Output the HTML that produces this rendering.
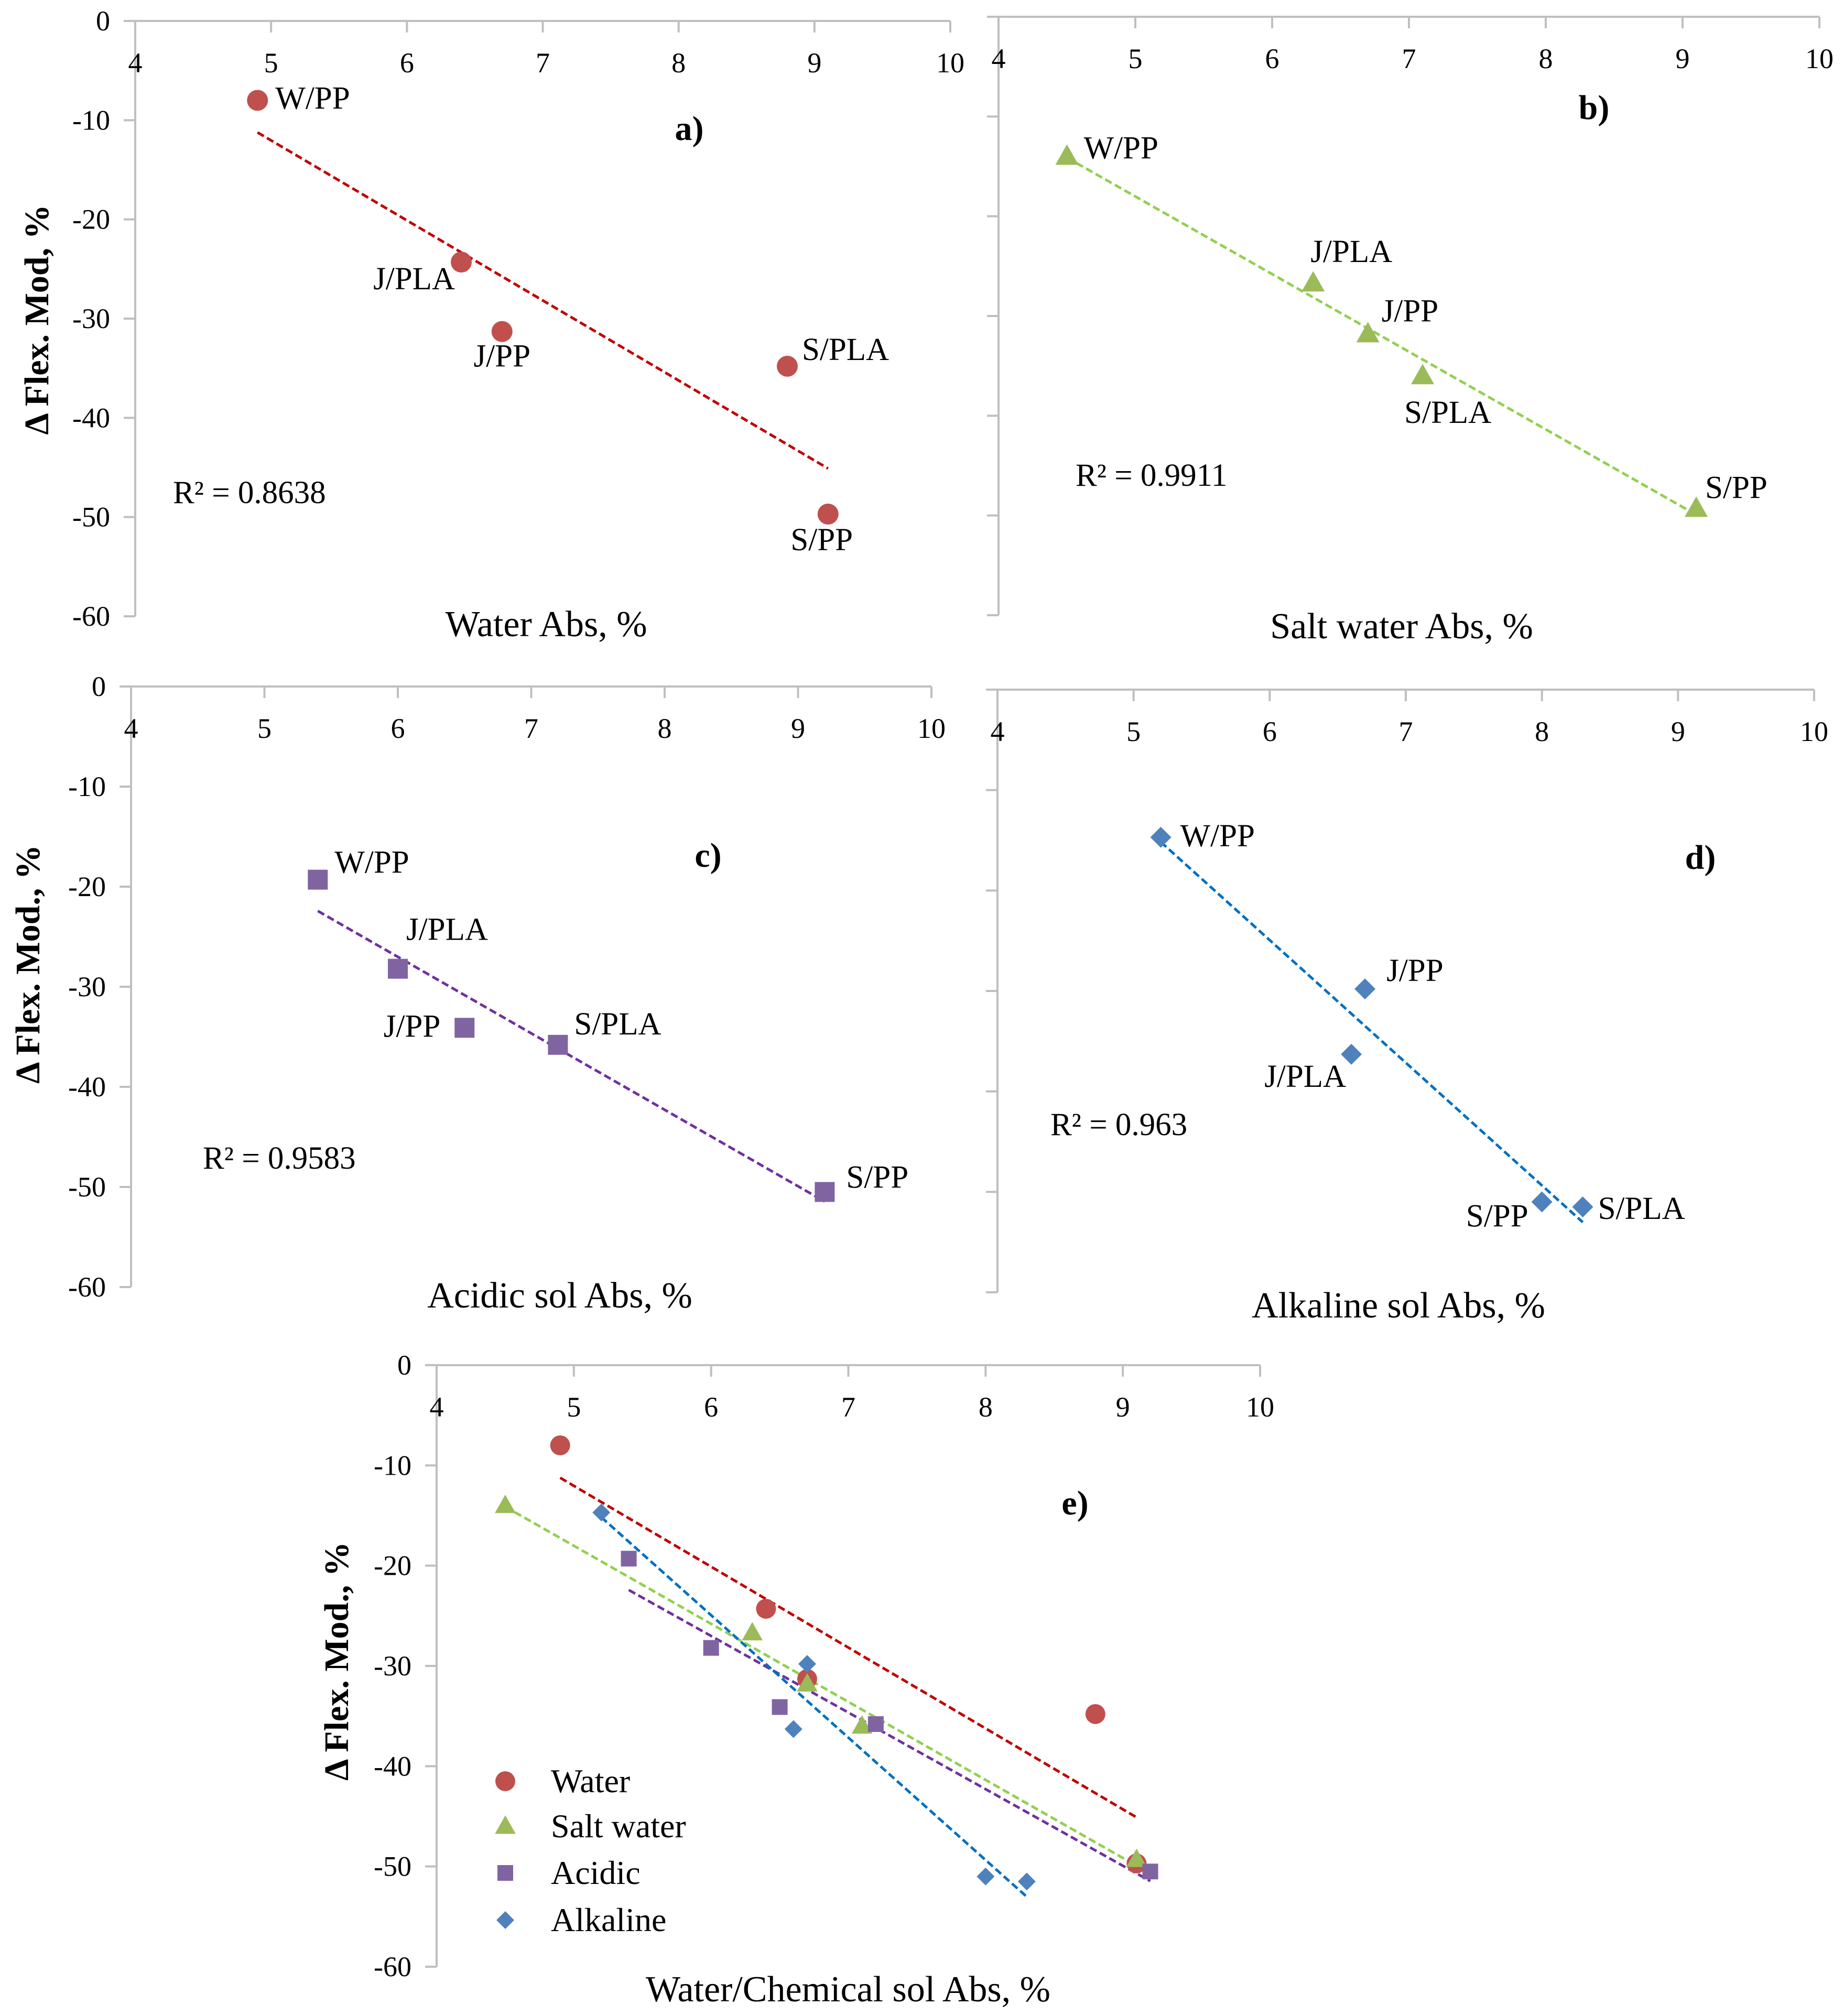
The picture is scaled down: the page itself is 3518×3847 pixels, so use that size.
<!DOCTYPE html>
<html><head><meta charset="utf-8"><style>
html,body{margin:0;padding:0;background:#fff;}
svg{display:block;font-family:"Liberation Serif",serif;}
</style></head><body>
<svg id="fig" width="3518" height="3847" viewBox="0 0 3518 3847" xmlns="http://www.w3.org/2000/svg"></svg>
<script>
const xTicks=[4,5,6,7,8,9,10];
const yTicks=[0,-10,-20,-30,-40,-50,-60];
const names=['W/PP','J/PLA','J/PP','S/PLA','S/PP'];
const waterX=[4.9,6.4,6.7,8.8,9.1];
const waterY=[-8,-24.3,-31.3,-34.8,-49.7];
const saltX=[4.5,6.3,6.7,7.1,9.1];
const saltY=[-14,-26.7,-31.8,-36,-49.3];
const acidX=[5.4,6.0,6.5,7.2,9.2];
const acidY=[-19.3,-28.2,-34.1,-35.8,-50.5];
const alkX=[5.2,6.6,6.7,8.3,8.0];
const alkY=[-14.7,-36.3,-29.8,-51.5,-51];
const r2Labels=['R² = 0.8638','R² = 0.9911','R² = 0.9583','R² = 0.963'];
const legendNames=['Water','Salt water','Acidic','Alkaline'];

const NS='http://www.w3.org/2000/svg';
const svg=document.getElementById('fig');
function mk(tag,attrs,parent){const e=document.createElementNS(NS,tag);for(const k in attrs)e.setAttribute(k,attrs[k]);(parent||svg).appendChild(e);return e;}
function txt(s,x,y,size,anchor,parent,weight){const t=mk('text',{x:x,y:y,'font-size':size,'text-anchor':anchor||'start',fill:'#000'},parent);if(weight)t.setAttribute('font-weight',weight);t.textContent=s;return t;}

const markerCol=['#c0504d','#9bbb59','#8064a2','#4f81bd'];
const lineCol=['#c00000','#92d050','#7030a0','#0070c0'];
const shapes=['circle','triangle','square','diamond'];

function marker(shape,cx,cy,s,col,g){
  let e;
  if(shape==='circle')e=mk('circle',{cx:cx,cy:cy,r:s,fill:col},g);
  else if(shape==='triangle')e=mk('polygon',{points:`${cx},${cy-s*1.15} ${cx-s*1.1},${cy+s*0.8} ${cx+s*1.1},${cy+s*0.8}`,fill:col},g);
  else if(shape==='square')e=mk('rect',{x:cx-s,y:cy-s,width:2*s,height:2*s,fill:col},g);
  else e=mk('polygon',{points:`${cx},${cy-s} ${cx+s},${cy} ${cx},${cy+s} ${cx-s},${cy}`,fill:col},g);
  return e;
}
function regress(xs,ys){const n=xs.length;const mx=xs.reduce((a,b)=>a+b)/n,my=ys.reduce((a,b)=>a+b)/n;let sxy=0,sxx=0;for(let i=0;i<n;i++){sxy+=(xs[i]-mx)*(ys[i]-my);sxx+=(xs[i]-mx)**2;}const m=sxy/sxx;return {m:m,b:my-m*mx,min:Math.min(...xs),max:Math.max(...xs)};}

function axes(P,g,showY){
  const sx=v=>P.x0+(v-4)/6*(P.x1-P.x0);
  const sy=v=>P.y0+(-v)/60*(P.y1-P.y0);
  const ax=mk('g',{},g);
  
  
  mk('line',{x1:P.x0-22,y1:P.y0,x2:P.x1,y2:P.y0,stroke:'#bfbfbf','stroke-width':4},ax);
  mk('line',{x1:P.x0,y1:P.y0,x2:P.x0,y2:P.y1,stroke:'#bfbfbf','stroke-width':4},ax);
  xTicks.forEach(v=>{mk('line',{x1:sx(v),y1:P.y0,x2:sx(v),y2:P.y0+22,stroke:'#bfbfbf','stroke-width':4},ax);
    const t=txt(String(v),sx(v),P.y0+98,54,'middle',ax);
    
    });
  yTicks.forEach(v=>{mk('line',{x1:P.x0-22,y1:sy(v),x2:P.x0,y2:sy(v),stroke:'#bfbfbf','stroke-width':4},ax);
    if(showY){const t=txt(String(v),P.x0-48,sy(v)+18,54,'end',ax);
    
    }});
  return {sx,sy};
}
function trend(xs,ys,col,sx,sy,g){
  const r=regress(xs,ys);
  const l=mk('line',{x1:sx(r.min),y1:sy(r.m*r.min+r.b),x2:sx(r.max),y2:sy(r.m*r.max+r.b),stroke:col,'stroke-width':5,'stroke-dasharray':'14 7'},g);
  
  
}

const panels=[
 {id:'a',x0:258,x1:1813,y0:40,y1:1176,xs:waterX,ys:waterY,k:0,ms:20,showY:true,
  lab:[[34,16,'start'],[-12,52,'end'],[0,67,'middle'],[28,-12,'start'],[-12,69,'middle']],
  r2:[330,960],pl:[1315,267],xt:'Water Abs, %',xtp:[1042,1214],yt:'Δ Flex. Mod, %',ytp:[70,610]},
 {id:'b',x0:1905,x1:3471,y0:32,y1:1174,xs:saltX,ys:saltY,k:1,ms:20,showY:false,
  lab:[[32,4,'start'],[-5,-40,'start'],[26,-24,'start'],[-35,90,'start'],[17,-20,'start']],
  r2:[2052,927],pl:[3041,227],xt:'Salt water Abs, %',xtp:[2674,1218]},
 {id:'c',x0:250,x1:1777,y0:1310,y1:2456,xs:acidX,ys:acidY,k:2,ms:19,showY:true,
  lab:[[32,-13,'start'],[16,-55,'start'],[-46,17,'end'],[31,-20,'start'],[41,-8,'start']],
  r2:[387,2230],pl:[1351,1654],xt:'Acidic sol Abs, %',xtp:[1068,2495],yt:'Δ Flex. Mod., %',ytp:[53,1840]},
 {id:'d',x0:1903,x1:3461,y0:1316,y1:2466,xs:alkX,ys:alkY,k:3,ms:20,showY:false,
  lab:[[37,17,'start'],[-10,62,'end'],[41,-15,'start'],[29,23,'start'],[-26,47,'end']],
  r2:[2004,2166],pl:[3244,1658],xt:'Alkaline sol Abs, %',xtp:[2668,2514]}
];
panels.forEach((P,pi)=>{
  const g=mk('g',{});
  
  
  const {sx,sy}=axes(P,g,P.showY);
  trend(P.xs,P.ys,lineCol[P.k],sx,sy,g);
  P.xs.forEach((x,i)=>{
    const m=marker(shapes[P.k],sx(x),sy(P.ys[i]),P.ms,markerCol[P.k],g);
    
    
    const L=P.lab[i];
    const t=txt(names[i],sx(x)+L[0],sy(P.ys[i])+L[1],61,L[2],g);
    
    
  });
  const r=txt(r2Labels[pi],P.r2[0],P.r2[1],61,'start',g);
  
  
  const pl=txt(P.id+')',P.pl[0],P.pl[1],66,'middle',g,'bold');
  
  
  const xt=txt(P.xt,P.xtp[0],P.xtp[1],70,'middle',g);
  
  
  if(P.yt){const yt=txt(P.yt,0,0,66,'middle',g,'bold');
    yt.setAttribute('transform',`translate(${P.ytp[0]+22},${P.ytp[1]}) rotate(-90)`);
    
    }
});

// panel e
(function(){
  const P={x0:833,x1:2404,y0:2605,y1:3753};
  const g=mk('g',{});
  
  
  const {sx,sy}=axes(P,g,true);
  const sets=[[waterX,waterY],[saltX,saltY],[acidX,acidY],[alkX,alkY]];
  const sizes=[19,18,15,17];
  sets.forEach((s,k)=>trend(s[0],s[1],lineCol[k],sx,sy,g));
  sets.forEach((s,k)=>{s[0].forEach((x,i)=>{
    const m=marker(shapes[k],sx(x),sy(s[1][i]),sizes[k],markerCol[k],g);
    
    
  });});
  const lg=mk('g',{},g);
  
  
  const ly=[3399,3485,3574,3664];
  legendNames.forEach((n,k)=>{
    const m=marker(shapes[k],964,ly[k],sizes[k],markerCol[k],lg);
    
    
    const t=txt(n,1051,ly[k]+21,64,'start',lg);
    
    
  });
  const pl=txt('e)',2051,2890,66,'middle',g,'bold');
  
  
  const xt=txt('Water/Chemical sol Abs, %',1618,3819,70,'middle',g);
  
  
  const yt=txt('Δ Flex. Mod., %',0,0,66,'middle',g,'bold');
  yt.setAttribute('transform','translate(664,3170) rotate(-90)');
  
  
})();
</script>
</body></html>
